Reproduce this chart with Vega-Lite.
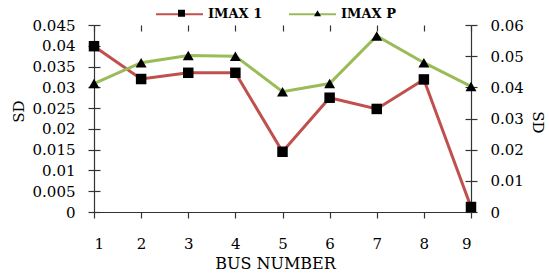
{
  "$schema": "https://vega.github.io/schema/vega-lite/v6.json",
  "width": 377,
  "height": 187,
  "autosize": {"type": "none"},
  "padding": {"left": 94, "top": 25, "right": 78, "bottom": 62},
  "background": "white",
  "config": {
    "view": {"stroke": null},
    "font": "DejaVu Serif",
    "axis": {
      "domainColor": "#333333",
      "tickColor": "#333333",
      "domainWidth": 1.2,
      "tickWidth": 1.2,
      "tickSize": 6,
      "grid": false,
      "labelColor": "black",
      "titleColor": "black",
      "labelFont": "DejaVu Serif",
      "titleFont": "DejaVu Serif",
      "labelFontSize": 15,
      "titleFontSize": 16,
      "titleFontWeight": "normal"
    },
    "legend": {
      "orient": "none",
      "direction": "horizontal",
      "padding": 0,
      "labelFont": "DejaVu Serif",
      "labelFontSize": 13,
      "labelFontWeight": "bold",
      "labelColor": "black"
    }
  },
  "data": {
    "values": [
      {"bus": 1, "series": "IMAX 1", "sd": 0.0399},
      {"bus": 2, "series": "IMAX 1", "sd": 0.032},
      {"bus": 3, "series": "IMAX 1", "sd": 0.0335},
      {"bus": 4, "series": "IMAX 1", "sd": 0.0335},
      {"bus": 5, "series": "IMAX 1", "sd": 0.0145},
      {"bus": 6, "series": "IMAX 1", "sd": 0.0275},
      {"bus": 7, "series": "IMAX 1", "sd": 0.0248},
      {"bus": 8, "series": "IMAX 1", "sd": 0.0319},
      {"bus": 9, "series": "IMAX 1", "sd": 0.0012},
      {"bus": 1, "series": "IMAX P", "sd": 0.0412},
      {"bus": 2, "series": "IMAX P", "sd": 0.0479},
      {"bus": 3, "series": "IMAX P", "sd": 0.0502},
      {"bus": 4, "series": "IMAX P", "sd": 0.05},
      {"bus": 5, "series": "IMAX P", "sd": 0.0386},
      {"bus": 6, "series": "IMAX P", "sd": 0.0412},
      {"bus": 7, "series": "IMAX P", "sd": 0.0565},
      {"bus": 8, "series": "IMAX P", "sd": 0.0479},
      {"bus": 9, "series": "IMAX P", "sd": 0.0403}
    ]
  },
  "layer": [
    {
      "transform": [{"filter": "datum.series === 'IMAX 1'"}],
      "encoding": {
        "x": {
          "field": "bus",
          "type": "quantitative",
          "scale": {"domain": [1, 9], "nice": false, "zero": false},
          "axis": {
            "values": [1, 2, 3, 4, 5, 6, 7, 8, 9],
            "format": "d",
            "labelPadding": 18,
            "title": "BUS NUMBER",
            "titleX": 181,
            "titleY": 56,
            "titleBaseline": "alphabetic",
            "titleAnchor": null
          }
        }
      },
      "layer": [
        {
          "mark": {"type": "line", "strokeWidth": 3},
          "encoding": {
            "y": {
              "field": "sd",
              "type": "quantitative",
              "scale": {"domain": [0, 0.045], "nice": false},
              "axis": {
                "orient": "left",
                "values": [0, 0.005, 0.01, 0.015, 0.02, 0.025, 0.03, 0.035, 0.04, 0.045],
                "format": "~g",
                "labelPadding": 13,
                "title": "SD",
                "titleFontSize": 15,
                "titleAngle": -90,
                "titleBaseline": "middle",
                "titleX": -76,
                "titleY": 86,
                "titleAnchor": null
              }
            },
            "color": {
              "field": "series",
              "type": "nominal",
              "scale": {"domain": ["IMAX 1", "IMAX P"], "range": ["#C0504D", "#9BBB59"]},
              "legend": {
                "title": null,
                "legendX": 61,
                "legendY": -35.5,
                "symbolSize": 2209,
                "symbolStrokeWidth": 2,
                "labelOffset": 4,
                "columnPadding": 22,
                "encode": {
                  "symbols": {"update": {"shape": {"value": "M-1,0H1"}}}
                }
              }
            }
          }
        },
        {
          "mark": {"type": "point", "filled": true, "color": "black", "size": 110, "opacity": 1},
          "encoding": {
            "y": {
              "field": "sd",
              "type": "quantitative",
              "axis": {
                "orient": "left",
                "values": [0, 0.005, 0.01, 0.015, 0.02, 0.025, 0.03, 0.035, 0.04, 0.045],
                "tickSize": -6,
                "labels": false,
                "domain": false,
                "title": null
              }
            },
            "shape": {
              "field": "series",
              "type": "nominal",
              "scale": {"range": ["square", "triangle-up"]},
              "legend": {
                "title": null,
                "zindex": 2,
                "legendX": 81,
                "legendY": -18.5,
                "symbolSize": 49,
                "symbolStrokeWidth": 0,
                "labelExpr": "''",
                "labelOffset": 101,
                "columnPadding": 22,
                "encode": {
                  "symbols": {
                    "update": {
                      "fill": {"value": "black"},
                      "opacity": {"value": 1}
                    }
                  }
                }
              }
            }
          }
        }
      ],
      "resolve": {"axis": {"y": "independent"}}
    },
    {
      "transform": [{"filter": "datum.series === 'IMAX P'"}],
      "encoding": {
        "x": {
          "field": "bus",
          "type": "quantitative",
          "axis": {
            "values": [1, 2, 3, 4, 5, 6, 7, 8, 9],
            "tickSize": -6,
            "labels": false,
            "domain": false,
            "title": null
          }
        }
      },
      "layer": [
        {
          "mark": {"type": "line", "strokeWidth": 3},
          "encoding": {
            "y": {
              "field": "sd",
              "type": "quantitative",
              "scale": {"domain": [0, 0.06], "nice": false},
              "axis": {
                "orient": "right",
                "values": [0, 0.01, 0.02, 0.03, 0.04, 0.05, 0.06],
                "format": "~g",
                "labelPadding": 13,
                "title": "SD",
                "titleFontSize": 15,
                "titleAngle": 90,
                "titleBaseline": "middle",
                "titleX": 66,
                "titleY": 97,
                "titleAnchor": null
              }
            },
            "color": {
              "field": "series",
              "type": "nominal",
              "scale": {"domain": ["IMAX 1", "IMAX P"], "range": ["#C0504D", "#9BBB59"]}
            }
          }
        },
        {
          "mark": {"type": "point", "filled": true, "color": "black", "size": 120, "opacity": 1},
          "encoding": {
            "y": {
              "field": "sd",
              "type": "quantitative",
              "axis": {
                "orient": "right",
                "values": [0, 0.01, 0.02, 0.03, 0.04, 0.05, 0.06],
                "tickSize": -6,
                "labels": false,
                "domain": false,
                "title": null
              }
            },
            "shape": {
              "field": "series",
              "type": "nominal",
              "scale": {"range": ["square", "triangle-up"]}
            }
          }
        }
      ],
      "resolve": {"axis": {"y": "independent"}}
    }
  ],
  "resolve": {"scale": {"y": "independent"}, "axis": {"x": "independent"}}
}
